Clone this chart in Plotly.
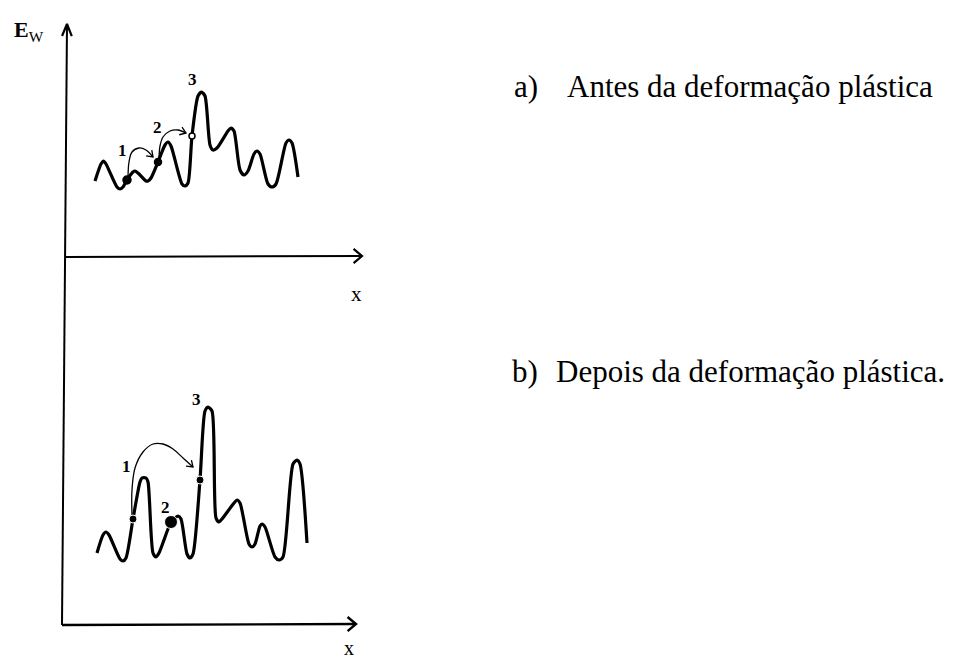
import plotly.graph_objects as go
import math

# ---------------- data (schematic, in image-like units; y grows downward) ----------------
top_curve_x = [95, 101, 103.5, 106, 117, 120, 123, 127, 133, 135, 138, 146, 148, 151, 158, 165, 168, 171,
               182, 185, 188, 192, 198, 201.5, 205, 210, 213, 217, 228, 231, 234, 240, 244, 248, 254, 257, 260,
               268, 272, 276, 286, 289, 292, 298]
top_curve_y = [181, 164, 161, 164, 187, 189, 187, 180, 172, 171, 173, 181, 181, 178, 162, 145, 142, 146,
               184, 186, 183, 136, 96, 92, 96, 145, 150, 148, 131, 128, 131, 170, 175, 171, 154, 151, 154,
               184, 187, 184, 143, 140, 143, 177]

bot_curve_x = [97, 103, 106, 109, 120, 123, 126, 133, 140, 142, 146, 148, 153, 156, 159, 171, 175, 178, 181,
               187, 190, 193, 200, 205, 208, 212, 216, 219, 222, 234, 237, 240, 249, 252, 255, 260, 262, 265,
               275, 279, 283, 293, 297, 300, 307]
bot_curve_y = [553, 535, 532, 535, 559, 561, 558, 519, 482, 478, 478, 482, 553, 557, 553, 522, 518, 516, 519,
               554, 558, 554, 480, 411, 407, 411, 518, 522, 519, 503, 500, 503, 544, 547, 544, 526, 524, 527,
               557, 560, 557, 464, 460, 464, 543]

# states (points) 1, 2, 3
top_pts_x = [127, 158, 192]
top_pts_y = [180, 162, 136]
bot_pts_x = [133, 171, 200]
bot_pts_y = [519, 522, 480]

# jump arrows
top_arrow1_x = [128, 129, 132, 139, 146, 153]
top_arrow1_y = [178, 162, 152, 148, 150, 157]
top_arrow2_x = [159, 160, 163, 170, 178, 186]
top_arrow2_y = [160, 146, 137, 131, 130, 133]
bot_arrow_x = [132, 132, 135, 143, 153, 163, 173, 183, 193]
bot_arrow_y = [515, 490, 468, 452, 444, 444, 449, 458, 467]

# axes
yaxis_line_x = [62, 67]
yaxis_line_y = [625, 24]
top_xaxis_x = [66, 362]
top_xaxis_y = [257, 256]
bot_xaxis_x = [62, 356]
bot_xaxis_y = [625, 624]

# labels
num_labels = ["1", "2", "3"]
top_lab_x = [122, 157, 192]
top_lab_y = [150, 127, 79]
bot_lab_x = [126, 165, 196]
bot_lab_y = [466, 507, 399]

caption_marks = ["a)", "b)"]
captions = ["Antes da deformação plástica", "Depois da deformação plástica."]
caption_mark_x = [512, 510]
caption_x = [565, 554]
caption_y = [86, 371]

SERIF = "Liberation Serif, Times New Roman, serif"

fig = go.Figure()


def line(x, y, w, shape="linear", smooth=None):
    ln = dict(color="black", width=w, shape=shape)
    if smooth is not None:
        ln["smoothing"] = smooth
    fig.add_trace(go.Scatter(x=x, y=y, mode="lines", line=ln, hoverinfo="skip", showlegend=False))


def chevron(x0, y0, x1, y1, size, w, spread=32):
    # open arrowhead at (x1, y1) pointing along direction (x0,y0)->(x1,y1)
    ang = math.atan2(y1 - y0, x1 - x0)
    hx, hy = [], []
    for s in (spread, -spread):
        a = ang + math.pi - math.radians(s)
        hx.append(x1 + size * math.cos(a))
        hy.append(y1 + size * math.sin(a))
    line([hx[0], x1, hx[1]], [hy[0], y1, hy[1]], w)


# axes
line(yaxis_line_x, yaxis_line_y, 2)
chevron(yaxis_line_x[0], yaxis_line_y[0], yaxis_line_x[1], yaxis_line_y[1], 13, 2.2, 22)
line(top_xaxis_x, top_xaxis_y, 2)
chevron(top_xaxis_x[0], top_xaxis_y[0], top_xaxis_x[1], top_xaxis_y[1], 11, 2.2, 40)
line(bot_xaxis_x, bot_xaxis_y, 2.4)
chevron(bot_xaxis_x[0], bot_xaxis_y[0], bot_xaxis_x[1], bot_xaxis_y[1], 11, 2.4, 40)

# energy curves
line(top_curve_x, top_curve_y, 3.2, "spline", 0.7)
line(bot_curve_x, bot_curve_y, 3.2, "spline", 0.7)

# jump arrows
for ax_, ay_ in ((top_arrow1_x, top_arrow1_y), (top_arrow2_x, top_arrow2_y), (bot_arrow_x, bot_arrow_y)):
    line(ax_, ay_, 1.3, "spline", 1.0)
    chevron(ax_[-2], ay_[-2], ax_[-1], ay_[-1], 7, 1.3, 35)

# points
fig.add_trace(go.Scatter(x=top_pts_x, y=top_pts_y, mode="markers", hoverinfo="skip", showlegend=False,
                         marker=dict(color=["black", "black", "white"], size=[8, 7, 6], opacity=1,
                                     symbol="circle", line=dict(color="black", width=1.5))))
fig.add_trace(go.Scatter(x=bot_pts_x, y=bot_pts_y, mode="markers", hoverinfo="skip", showlegend=False,
                         marker=dict(color="black", size=[8, 13, 8], opacity=1, symbol="circle")))

annotations = []
for labs_x, labs_y in ((top_lab_x, top_lab_y), (bot_lab_x, bot_lab_y)):
    for t, x, y in zip(num_labels, labs_x, labs_y):
        annotations.append(dict(x=x, y=y, text="<b>" + t + "</b>", showarrow=False,
                                font=dict(family=SERIF, size=17, color="black")))

annotations.append(dict(x=12, y=31, text="<b>E</b><sub>W</sub>", showarrow=False, xanchor="left",
                        font=dict(family=SERIF, size=22, color="black")))
annotations.append(dict(x=356, y=294, text="x", showarrow=False,
                        font=dict(family=SERIF, size=21, color="black")))
annotations.append(dict(x=349, y=661, text="x", showarrow=False, yanchor="bottom",
                        font=dict(family=SERIF, size=20, color="black")))
for m, t, mx, x, y in zip(caption_marks, captions, caption_mark_x, caption_x, caption_y):
    annotations.append(dict(x=mx, y=y, text=m, showarrow=False, xanchor="left",
                            font=dict(family=SERIF, size=31, color="black")))
    annotations.append(dict(x=x, y=y, text=t, showarrow=False, xanchor="left",
                            font=dict(family=SERIF, size=31, color="black")))

fig.update_layout(
    width=961, height=661,
    margin=dict(l=0, r=0, t=0, b=0),
    paper_bgcolor="white", plot_bgcolor="white",
    xaxis=dict(range=[0, 961], visible=False, fixedrange=True),
    yaxis=dict(range=[661, 0], visible=False, fixedrange=True),
    annotations=annotations,
    showlegend=False,
)

fig.write_html("out.html")
